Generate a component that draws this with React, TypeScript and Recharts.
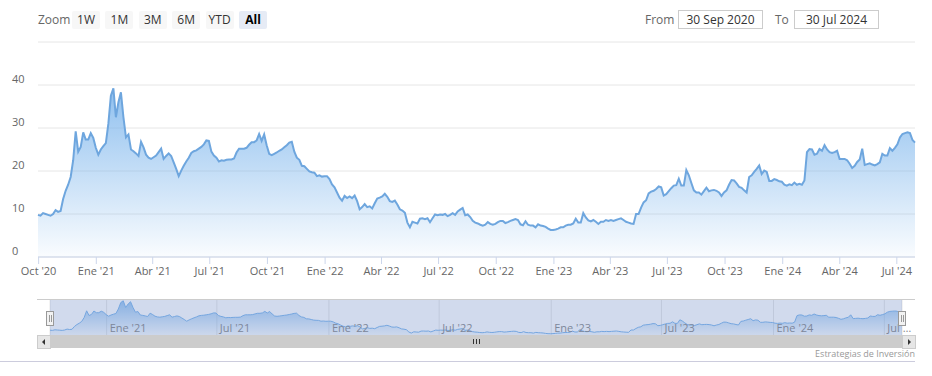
import React from 'react';
import { AreaChart, Area, XAxis, YAxis, CartesianGrid } from 'recharts';

// closing values, one every ~4 days from 30 Sep 2020 to 30 Jul 2024
const values = [
  9.8, 9.6, 10.2, 10.0, 9.8, 9.6, 10.0, 10.9, 10.5, 10.7,
  13.5, 15.4, 16.8, 18.6, 22.5, 29.2, 24.5, 25.6, 29.0, 27.3,
  27.3, 28.8, 27.7, 25.4, 23.8, 25.0, 25.8, 26.5, 31.0, 37.5,
  39.2, 32.5, 36.0, 38.3, 32.5, 27.8, 28.5, 25.0, 24.6, 24.1,
  23.5, 26.8, 25.5, 23.8, 23.1, 22.8, 23.2, 23.6, 24.4, 25.2,
  22.8, 23.5, 24.1, 23.5, 22.0, 20.5, 18.8, 20.1, 21.2, 22.2,
  23.1, 24.2, 24.6, 24.8, 25.2, 25.6, 26.2, 27.1, 27.0, 24.5,
  23.6, 23.1, 22.2, 22.5, 22.4, 22.6, 22.7, 22.7, 22.9, 24.3,
  25.2, 25.2, 25.2, 25.4, 26.1, 26.7, 26.7, 27.1, 28.6, 27.0,
  28.5, 26.0, 24.0, 23.7, 24.0, 24.3, 24.7, 25.0, 25.5, 26.0,
  26.6, 26.8, 24.5, 23.1, 22.6, 21.2, 21.1, 20.5, 19.9, 19.7,
  19.6, 18.8, 19.0, 18.7, 18.8, 18.8, 18.1, 16.9, 16.2, 15.0,
  13.8, 13.1, 14.2, 13.7, 14.1, 13.7, 14.3, 13.0, 11.1, 11.6,
  12.3, 11.6, 11.8, 11.3, 12.5, 13.6, 13.8, 14.1, 14.7, 14.0,
  13.0, 12.8, 13.1, 12.2, 11.1, 10.8, 10.3, 8.0, 6.9, 8.2,
  8.0, 7.8, 8.9, 9.0, 8.8, 9.0, 8.1, 9.0, 9.9, 9.7,
  9.9, 9.8, 10.0, 9.5, 9.8, 10.2, 9.8, 10.6, 11.0, 11.4,
  9.7, 9.9, 9.3, 8.4, 8.0, 7.8, 7.5, 7.3, 7.5, 8.1,
  7.7, 7.5, 7.7, 8.1, 8.4, 8.4, 7.9, 8.1, 8.4, 8.6,
  8.8, 8.6, 7.6, 7.4, 8.3, 7.5, 7.3, 7.3, 6.9, 7.6,
  7.3, 7.2, 7.0, 6.6, 6.3, 6.3, 6.4, 6.6, 6.9, 6.9,
  7.3, 7.5, 7.5, 7.8, 8.9, 8.0, 8.0, 10.2, 9.2, 8.5,
  8.3, 8.6, 8.2, 7.7, 8.2, 8.2, 8.6, 8.4, 8.6, 8.4,
  8.6, 8.8, 9.0, 8.6, 8.2, 8.0, 7.8, 7.7, 10.0, 10.0,
  11.5, 12.7, 13.2, 14.8, 15.2, 15.4, 15.8, 16.4, 16.2, 14.3,
  14.6, 15.3, 16.0, 16.6, 16.7, 18.2, 16.6, 16.6, 20.2, 19.0,
  17.2, 15.5, 15.0, 15.0, 14.5, 15.3, 16.1, 15.3, 15.5, 15.6,
  15.4, 15.0, 14.2, 15.0, 15.5, 16.8, 17.9, 17.8, 17.1, 16.3,
  16.1, 15.5, 15.0, 18.6, 19.0, 19.8, 20.5, 21.3, 19.3, 20.1,
  19.8, 17.7, 17.7, 18.1, 17.9, 17.6, 17.5, 16.8, 16.6, 16.9,
  16.7, 17.3, 16.8, 17.0, 16.8, 17.8, 24.4, 25.1, 25.0, 23.8,
  24.0, 25.1, 24.7, 26.0, 25.0, 24.4, 24.2, 24.4, 24.7, 22.8,
  22.8, 22.8, 22.5, 21.7, 20.7, 21.2, 22.1, 22.7, 25.2, 21.4,
  21.6, 21.8, 21.5, 21.3, 21.6, 22.0, 24.0, 23.6, 23.6, 25.3,
  24.7, 25.4, 26.2, 27.8, 28.6, 28.8, 29.0, 28.8, 27.2, 26.6,
];

const startDate = '2020-09-30';
const endDate = '2024-07-30';

const mainTickDates = [
  '2020-10-01', '2021-01-01', '2021-04-01', '2021-07-01', '2021-10-01', '2022-01-01',
  '2022-04-01', '2022-07-01', '2022-10-01', '2023-01-01', '2023-04-01', '2023-07-01',
  '2023-10-01', '2024-01-01', '2024-04-01', '2024-07-01',
];
const mainTickLabels = [
  "Oct '20", "Ene '21", "Abr '21", "Jul '21", "Oct '21", "Ene '22",
  "Abr '22", "Jul '22", "Oct '22", "Ene '23", "Abr '23", "Jul '23",
  "Oct '23", "Ene '24", "Abr '24", "Jul '24",
];
const navTickDates = [
  '2021-01-01', '2021-07-01', '2022-01-01', '2022-07-01',
  '2023-01-01', '2023-07-01', '2024-01-01', '2024-07-01',
];
const navTickLabels = ["Ene '21", "Jul '21", "Ene '22", "Jul '22", "Ene '23", "Jul '23", "Ene '24", 'Jul …'];
const yTicks = [0, 10, 20, 30, 40, 50];
const zoomButtons = ['1W', '1M', '3M', '6M', 'YTD', 'All'];
const fromText = '30 Sep 2020';
const toText = '30 Jul 2024';
const credits = 'Estrategias de Inversión';

const toTime = (d: string) => Date.parse(d + 'T00:00:00Z');
const startTime = toTime(startDate);
const endTime = toTime(endDate);
const data = values.map((v, i) => ({
  t: startTime + (i * (endTime - startTime)) / (values.length - 1),
  v,
}));
const mainTicks = mainTickDates.map(toTime);
const navTicks = navTickDates.map(toTime);

const font = '"Open Sans", "Noto Sans", sans-serif';

const YTick = (props: any) => {
  const { y, payload } = props;
  if (payload.value === 50) return <g />;
  return (
    <text x={12} y={y - 2} fill="#666" fontSize={11} fontFamily={font}>
      {payload.value}
    </text>
  );
};

const NavTick = (props: any) => {
  const { x, payload } = props;
  const i = navTicks.indexOf(payload.value);
  return (
    <text x={x + 3} y={33} fill="#888" fontSize={11} fontFamily={font}>
      {navTickLabels[i]}
    </text>
  );
};

const Handle = ({ left }: { left: number }) => (
  <div
    style={{
      position: 'absolute', left, top: 311, width: 6, height: 13,
      background: '#f2f2f2', border: '1px solid #999', boxSizing: 'content-box',
    }}
  >
    <div style={{ position: 'absolute', left: 2, top: 3, width: 1, height: 7, background: '#999' }} />
    <div style={{ position: 'absolute', left: 4, top: 3, width: 1, height: 7, background: '#999' }} />
  </div>
);

export default function App() {
  return (
    <div style={{ position: 'relative', width: 932, height: 376, background: '#fff', fontFamily: font }}>
      <style>{'body{margin:0}'}</style>

      {/* range selector */}
      <div style={{ position: 'absolute', left: 38, top: 11, fontSize: 12, color: '#666', lineHeight: '18px' }}>Zoom</div>
      {zoomButtons.map((b, i) => (
        <div
          key={b}
          style={{
            position: 'absolute', left: 72 + i * 33.4, top: 11, width: 28, height: 18,
            background: b === 'All' ? '#e6ebf5' : '#f7f7f7', borderRadius: 2,
            fontSize: 12, lineHeight: '18px', textAlign: 'center',
            color: b === 'All' ? '#000' : '#333', fontWeight: b === 'All' ? 700 : 400,
          }}
        >
          {b}
        </div>
      ))}
      <div style={{ position: 'absolute', left: 645, top: 10, fontSize: 12, color: '#666', lineHeight: '19px' }}>From</div>
      <div
        style={{
          position: 'absolute', left: 678, top: 10, width: 83, height: 17, border: '1px solid #ccc',
          fontSize: 12, lineHeight: '17px', textAlign: 'center', color: '#333',
        }}
      >
        {fromText}
      </div>
      <div style={{ position: 'absolute', left: 775, top: 10, fontSize: 12, color: '#666', lineHeight: '19px' }}>To</div>
      <div
        style={{
          position: 'absolute', left: 794, top: 10, width: 83, height: 17, border: '1px solid #ccc',
          fontSize: 12, lineHeight: '17px', textAlign: 'center', color: '#333',
        }}
      >
        {toText}
      </div>

      {/* main chart */}
      <div style={{ position: 'absolute', left: 0, top: 0 }}>
        <AreaChart width={932} height={290} data={data} margin={{ top: 42, right: 17, left: 0, bottom: 0 }}>
          <defs>
            <linearGradient id="mainFill" x1="0" y1="0" x2="0" y2="1">
              <stop offset="0%" stopColor="#7cb5ec" stopOpacity={0.85} />
              <stop offset="100%" stopColor="#7cb5ec" stopOpacity={0.04} />
            </linearGradient>
          </defs>
          <CartesianGrid vertical={false} stroke="#e6e6e6" />
          <XAxis
            dataKey="t"
            type="number"
            scale="time"
            domain={[startTime, endTime]}
            ticks={mainTicks}
            interval={0}
            height={33}
            tickSize={7}
            tickMargin={3}
            stroke="#ccd6eb"
            tick={{ fill: '#666', fontSize: 11, fontFamily: font }}
            tickFormatter={(t: number) => mainTickLabels[mainTicks.indexOf(t)]}
          />
          <YAxis
            width={38}
            domain={[0, 50]}
            ticks={yTicks}
            interval={0}
            axisLine={false}
            tickLine={false}
            tick={<YTick />}
          />
          <Area
            type="linear"
            dataKey="v"
            stroke="#6ea6de"
            strokeWidth={2}
            fill="url(#mainFill)"
            fillOpacity={1}
            isAnimationActive={false}
            dot={false}
            activeDot={false}
          />
        </AreaChart>
      </div>

      {/* navigator */}
      <div style={{ position: 'absolute', left: 37, top: 299, width: 878, height: 1, background: '#ccc' }} />
      <div style={{ position: 'absolute', left: 0, top: 299 }}>
        <AreaChart width={932} height={40} data={data} margin={{ top: 1, right: 30, left: 50, bottom: 0 }}>
          <defs>
            <linearGradient id="navFill" x1="0" y1="0" x2="0" y2="1">
              <stop offset="0%" stopColor="#7cb5ec" stopOpacity={0.8} />
              <stop offset="100%" stopColor="#7cb5ec" stopOpacity={0.05} />
            </linearGradient>
          </defs>
          <CartesianGrid horizontal={false} stroke="#e6e6e6" />
          <XAxis
            dataKey="t"
            type="number"
            scale="time"
            domain={[startTime, endTime]}
            ticks={navTicks}
            interval={0}
            height={4}
            axisLine={false}
            tickLine={false}
            tick={<NavTick />}
          />
          <YAxis hide domain={[5, 40]} />
          <Area
            type="linear"
            dataKey="v"
            stroke="#7cb5ec"
            strokeWidth={1}
            fill="url(#navFill)"
            fillOpacity={1}
            isAnimationActive={false}
            dot={false}
            activeDot={false}
          />
        </AreaChart>
      </div>
      <div style={{ position: 'absolute', left: 50, top: 300, width: 852, height: 35, background: 'rgba(102,133,194,0.3)' }} />
      <Handle left={46} />
      <Handle left={898} />

      {/* scrollbar */}
      <div style={{ position: 'absolute', left: 37, top: 335, width: 878, height: 13, background: '#f2f2f2' }} />
      <div style={{ position: 'absolute', left: 50, top: 335, width: 852, height: 13, background: '#cccccc' }} />
      {[0, 3, 6].map((o) => (
        <div key={o} style={{ position: 'absolute', left: 473 + o, top: 339, width: 1, height: 5, background: '#333' }} />
      ))}
      <div style={{ position: 'absolute', left: 37, top: 335, width: 12, height: 12, background: '#e6e6e6', border: '1px solid #ccc', boxSizing: 'content-box' }}>
        <div style={{ position: 'absolute', left: 4, top: 3, width: 0, height: 0, borderTop: '3px solid transparent', borderBottom: '3px solid transparent', borderRight: '3px solid #333' }} />
      </div>
      <div style={{ position: 'absolute', left: 902, top: 335, width: 12, height: 12, background: '#e6e6e6', border: '1px solid #ccc', boxSizing: 'content-box' }}>
        <div style={{ position: 'absolute', left: 5, top: 3, width: 0, height: 0, borderTop: '3px solid transparent', borderBottom: '3px solid transparent', borderLeft: '3px solid #333' }} />
      </div>

      {/* credits and bottom rule */}
      <div style={{ position: 'absolute', right: 17, top: 348, fontSize: 9, color: '#999', lineHeight: '12px' }}>{credits}</div>
      <div style={{ position: 'absolute', left: 0, top: 361, width: 915, height: 1, background: '#ccccdd' }} />
    </div>
  );
}
